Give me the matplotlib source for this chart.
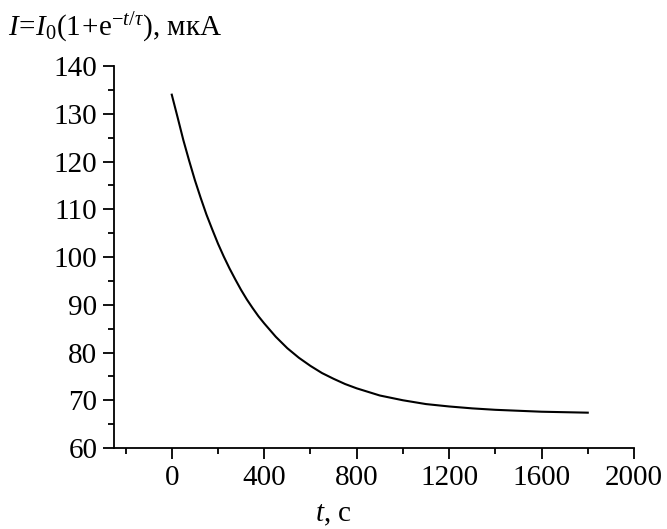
import matplotlib
matplotlib.use("Agg")
import matplotlib.pyplot as plt
from matplotlib.ticker import MultipleLocator

t_s = [0, 25, 50, 75, 100, 125, 150, 175, 200, 225, 250, 275, 300, 325, 350, 375,
       400, 450, 500, 550, 600, 650, 700, 750, 800, 900,
       1000, 1100, 1200, 1300, 1400, 1500, 1600, 1700, 1800]
I_uA = [134.0, 129.3, 124.5, 120.2, 116.1, 112.4, 108.9, 105.8, 102.8, 100.1, 97.6,
        95.3, 93.1, 91.1, 89.3, 87.6, 86.1, 83.3, 80.9, 78.9, 77.2, 75.7, 74.5, 73.4,
        72.5, 71.0, 70.0, 69.2, 68.7, 68.3, 68.0, 67.8, 67.6, 67.5, 67.4]
x_ticks = [0, 400, 800, 1200, 1600, 2000]
y_ticks = [60, 70, 80, 90, 100, 110, 120, 130, 140]

plt.rcParams['font.family'] = ['Liberation Serif', 'DejaVu Serif']
plt.rcParams['mathtext.fontset'] = 'custom'
plt.rcParams['mathtext.rm'] = 'Liberation Serif'
plt.rcParams['mathtext.it'] = 'Liberation Serif:italic'

fig = plt.figure(figsize=(6.67, 5.29), dpi=100)
ax = fig.add_axes([0.1709, 0.1531, 0.7796, 0.7221])
ax.plot(t_s, I_uA, color='black', lw=1.5)
ax.set_xlim(-250, 2000)
ax.set_ylim(60, 140)
ax.set_xticks(x_ticks)
ax.set_yticks(y_ticks)
ax.xaxis.set_minor_locator(MultipleLocator(200))
ax.yaxis.set_minor_locator(MultipleLocator(5))
for s in ['top', 'right']:
    ax.spines[s].set_visible(False)
for s in ['left', 'bottom']:
    ax.spines[s].set_linewidth(1.3)
ax.tick_params(which='major', direction='out', length=8, width=1.3, labelsize=21, pad=4)
ax.tick_params(which='minor', direction='out', length=4.5, width=1.3)

fig.text(0.012, 0.947, r"$I\!=\!I_0(1\!+\!\mathrm{e}^{-t/\tau})$, мкА", fontsize=21,
         ha='left', va='center')
fig.text(0.50, 0.027, r"$t$, с", fontsize=21, ha='center', va='center')

fig.savefig("out.png", dpi=100)
